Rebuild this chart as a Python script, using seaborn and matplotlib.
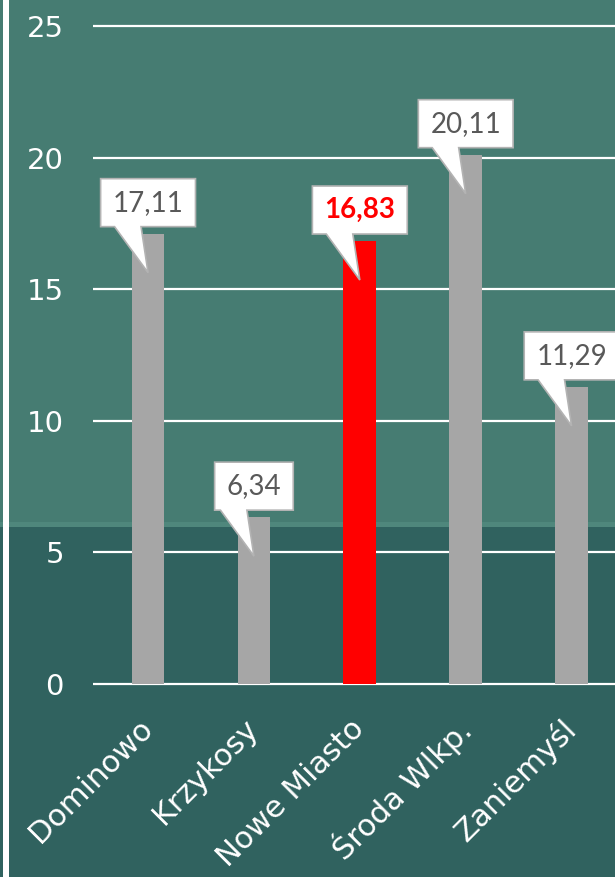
import matplotlib
matplotlib.use("Agg")
import matplotlib.pyplot as plt
import matplotlib.transforms as mtransforms
from matplotlib.patches import Polygon, Rectangle
import pandas as pd
import seaborn as sns

# ==============================
# DANE
# ==============================
miasta = ["Dominowo", "Krzykosy", "Nowe Miasto", "Środa Wlkp.", "Zaniemyśl"]
wartosci = [17.11, 6.34, 16.83, 20.11, 11.29]
wyroznione = "Nowe Miasto"
yticks = [0, 5, 10, 15, 20, 25]

df = pd.DataFrame({"miasto": miasta, "wartosc": wartosci})
kolory = {m: ("#ff0000" if m == wyroznione else "#a6a6a6") for m in miasta}

# ==============================
# STYL
# ==============================
sns.set_theme(style="white")
plt.rcParams["font.family"] = ["Lato", "DejaVu Sans"]

fig = plt.figure(figsize=(6.15, 8.77), dpi=100)
fig.patch.set_facecolor("#30625f")

# tlo: jasniejsza gora, ciemniejszy dol, biala pionowa linia
fig.patches.append(Rectangle((0, 0.401), 1, 0.599, transform=fig.transFigure,
                             facecolor="#467c72", edgecolor="none", zorder=-3))
fig.patches.append(Rectangle((0, 0.399), 1, 0.006, transform=fig.transFigure,
                             facecolor="#4f877c", edgecolor="none", zorder=-3))
fig.patches.append(Rectangle((3 / 615, 0), 6 / 615, 1, transform=fig.transFigure,
                             facecolor="white", edgecolor="none", zorder=-2))

ax = fig.add_axes([93 / 615, 0.2140, 1 - 93 / 615, 0.7624])
ax.set_facecolor("none")

sns.barplot(data=df, x="miasto", y="wartosc", hue="miasto", palette=kolory,
            width=0.31, legend=False, ax=ax, saturation=1, linewidth=0)

ax.set_xlim(-0.52, 4.41)
ax.set_ylim(-0.2, 25.2)
ax.set_yticks(yticks)
ax.set_yticklabels([str(t) for t in yticks])
ax.grid(axis="y", color="white", linewidth=1.6)
ax.set_axisbelow(True)
for s in ax.spines.values():
    s.set_visible(False)
ax.set_xlabel("")
ax.set_ylabel("")
ax.tick_params(axis="y", length=0, pad=21, labelsize=21, labelcolor="white")
ax.tick_params(axis="x", length=0, pad=25, labelsize=22, labelcolor="white")
for lab in ax.get_yticklabels():
    lab.set_fontfamily("DejaVu Sans")
for lab in ax.get_xticklabels():
    lab.set_fontfamily("DejaVu Sans")
    lab.set_rotation(45)
    lab.set_ha("right")
    lab.set_va("center")
    lab.set_rotation_mode("anchor")

# ==============================
# OBJASNIENIA (dymki)
# ==============================
renderer = fig.canvas.get_renderer()
for i, (m, v) in enumerate(zip(miasta, wartosci)):
    etykieta = f"{v:.2f}".replace(".", ",")
    trans = fig.dpi_scale_trans + mtransforms.ScaledTranslation(i, v, ax.transData)
    if m == wyroznione:
        txt = ax.text(0, 0.31, etykieta, transform=trans, ha="center", va="center",
                      fontsize=20, color="#ff0000", fontweight="bold", zorder=6)
    else:
        txt = ax.text(0, 0.31, etykieta, transform=trans, ha="center", va="center",
                      fontsize=20, color="#595959", zorder=6)
    w = txt.get_window_extent(renderer).width / fig.dpi + 0.24
    h0, h1 = 0.07, 0.55
    dymek = [(-w / 2, h0), (-w / 2, h1), (w / 2, h1), (w / 2, h0),
             (-0.07, h0), (0.0, -0.39), (-0.335, h0)]
    ax.add_patch(Polygon(dymek, closed=True, transform=trans, facecolor="white",
                         edgecolor="#b3b3b3", linewidth=1.2, zorder=5,
                         clip_on=False))

fig.savefig("out.png", dpi=100, facecolor=fig.get_facecolor())
